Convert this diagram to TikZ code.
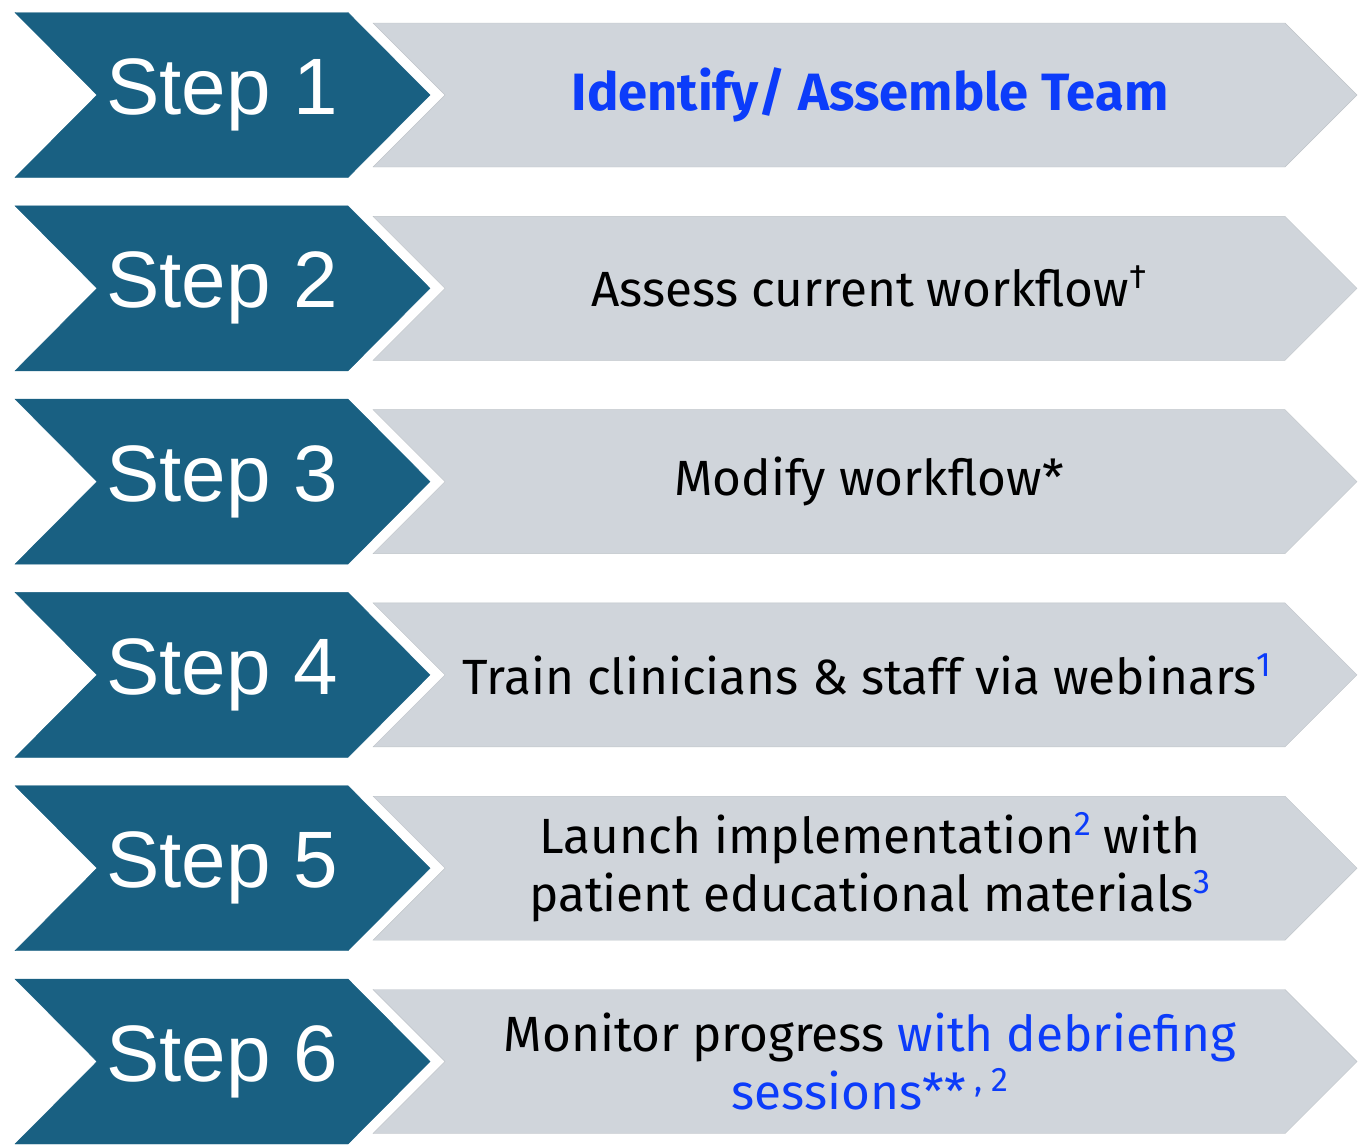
\documentclass[tikz,border=0pt]{standalone}
\usepackage{fontspec}
\usepackage{xcolor}
\setmainfont{Fira Sans}
\newfontfamily\stepfont{Liberation Sans}
\definecolor{stepteal}{RGB}{25,96,130}
\definecolor{bargrey}{RGB}{208,213,219}
\definecolor{noteblue}{RGB}{12,60,250}
\newcommand{\notesup}[1]{\smash{\raisebox{18pt}{\fontsize{34}{34}\selectfont #1}}}
\tikzset{
    steptext/.style = {text = white, font = \stepfont\fontsize{80}{90}\selectfont},
    bartext/.style = {align = center, font = \fontsize{49.5}{58}\selectfont}
}

\begin{document}
\begin{tikzpicture}[x = 1pt, y = -1pt]
            \useasboundingbox (0, 0) rectangle (1359, 1146);
            \foreach \n in {1, ..., 6} {
                \pgfmathsetmacro{\c}{95 + (\n - 1)*193.3}
                \filldraw[fill = stepteal, draw = stepteal] (15, \c - 82.5) -- (348, \c - 82.5) -- (430, \c) -- (348, \c + 82.5) -- (15, \c + 82.5) -- (97, \c) -- cycle;
                \filldraw[fill = bargrey, draw = bargrey!92!black, thin] (373, \c - 72) -- (1285, \c - 72) -- (1357, \c) -- (1285, \c + 72) -- (373, \c + 72) -- (445, \c) -- cycle;
                \node[steptext] (step\n) at (222, \c) {Step \n};
            }
            \node[bartext, text = noteblue, font = \bfseries\fontsize{52.5}{58}\selectfont] (team) at (870, 95) {Identify/ Assemble Team};
            \node[bartext] (assess) at (869, 288.3) {Assess current workflow\notesup{†}};
            \node[bartext] (modify) at (869, 481.6) {Modify workflow*};
            \node[bartext] (train) at (867, 675) {Train clinicians \& staff via webinars\notesup{\textcolor{noteblue}{1}}};
            \node[bartext] (launch) at (870, 868) {Launch implementation\notesup{\textcolor{noteblue}{2}} with\\patient educational materials\notesup{\textcolor{noteblue}{3}}};
            \node[bartext] (monitor) at (870, 1061.6) {Monitor progress \textcolor{noteblue}{with debriefing}\\\textcolor{noteblue}{sessions**\,\notesup{, 2}}};
        \end{tikzpicture}
\end{document}
